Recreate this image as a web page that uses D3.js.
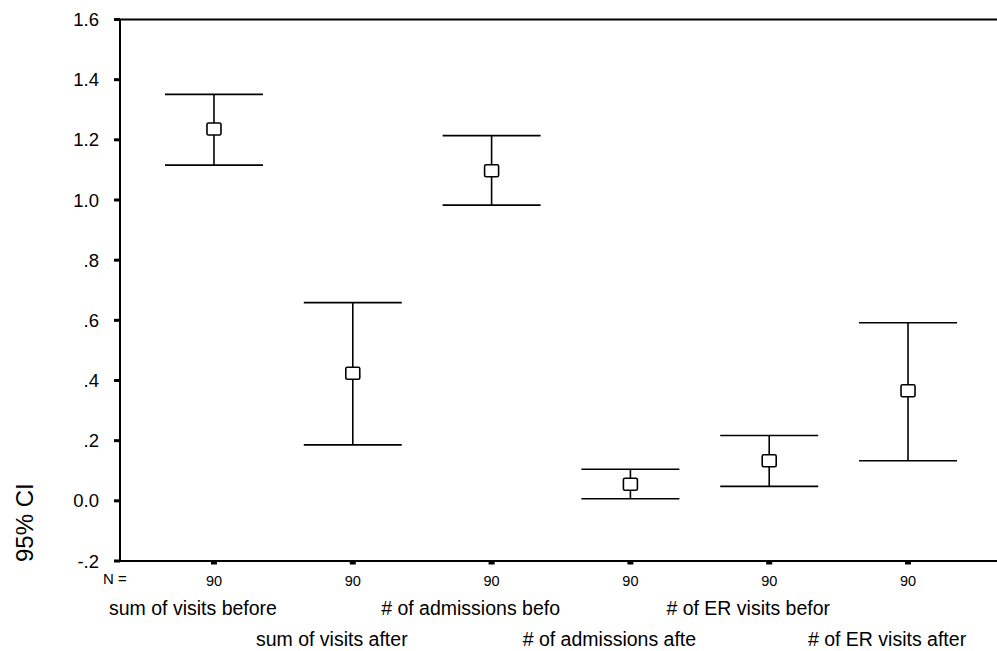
<!DOCTYPE html>
<html>
<head>
<meta charset="utf-8">
<script src="https://cdn.jsdelivr.net/npm/d3@7"></script>
<style>
  html, body { margin: 0; padding: 0; background: #fff; }
  svg { display: block; font-family: "Liberation Sans", Arial, sans-serif; }
</style>
</head>
<body>
<div id="app"></div>
<script>
// values
const categories = [
    "sum of visits before",
    "sum of visits after",
    "# of admissions befo",
    "# of admissions afte",
    "# of ER visits befor",
    "# of ER visits after",
];
const means = [1.236, 0.424, 1.097, 0.055, 0.133, 0.366];
const lower = [1.116, 0.186, 0.983, 0.007, 0.048, 0.133];
const upper = [1.351, 0.659, 1.214, 0.105, 0.217, 0.592];
const counts = [90, 90, 90, 90, 90, 90];
const yTicks = [-0.2, 0, 0.2, 0.4, 0.6, 0.8, 1.0, 1.2, 1.4, 1.6];

const width = 997, height = 651;

const svg = d3.select("#app")
    .append("svg")
    .attr("width", width)
    .attr("height", height);

// scales
const x = d3.scalePoint()
    .domain(categories)
    .range([120, 1002])
    .padding(0.677);

const y = d3.scaleLinear()
    .domain([-0.2, 1.6])
    .range([561, 19.5]);

// format like the SPSS axis: leading zero dropped except 0.0 and 1.x, plain hyphen
const fmt = (v) => {
    if (Math.abs(v) < 1e-9) return "0.0";
    let s = Math.abs(v).toFixed(1);
    if (Math.abs(v) < 1) s = s.replace("0.", ".");
    return (v < 0 ? "-" : "") + s;
};

// frame: top line, left axis, bottom axis (no right side)
svg.append("line")
    .attr("x1", 119).attr("x2", width)
    .attr("y1", y(1.6)).attr("y2", y(1.6))
    .attr("stroke", "#000").attr("stroke-width", 2);

svg.append("line")
    .attr("x1", 119).attr("x2", width)
    .attr("y1", y(-0.2)).attr("y2", y(-0.2))
    .attr("stroke", "#000").attr("stroke-width", 2);

svg.append("line")
    .attr("x1", 120).attr("x2", 120)
    .attr("y1", y(1.6)).attr("y2", y(-0.2) + 1)
    .attr("stroke", "#000").attr("stroke-width", 2);

// y ticks
const yAxis = svg.append("g");
yAxis.selectAll("rect")
    .data(yTicks)
    .enter()
    .append("rect")
    .attr("x", 114)
    .attr("y", (d) => y(d) - 1.5)
    .attr("width", 6)
    .attr("height", 3)
    .attr("fill", "#000");

yAxis.selectAll("text")
    .data(yTicks)
    .enter()
    .append("text")
    .attr("x", 99)
    .attr("y", (d) => y(d))
    .attr("dy", "0.36em")
    .attr("text-anchor", "end")
    .attr("font-size", 18.5)
    .text(fmt);

// y title
svg.append("text")
    .attr("transform", "translate(33,562) rotate(-90)")
    .attr("font-size", 24)
    .text("95% CI");

// x ticks
svg.selectAll(".xtick")
    .data(categories)
    .enter()
    .append("rect")
    .attr("class", "xtick")
    .attr("x", (d) => x(d) - 3)
    .attr("y", y(-0.2))
    .attr("width", 6)
    .attr("height", 3.5)
    .attr("fill", "#000");

// N labels
svg.append("text")
    .attr("x", 103)
    .attr("y", 584)
    .attr("font-size", 15)
    .text("N =");

svg.selectAll(".nlab")
    .data(categories)
    .enter()
    .append("text")
    .attr("class", "nlab")
    .attr("x", (d) => x(d))
    .attr("y", 585.5)
    .attr("text-anchor", "middle")
    .attr("font-size", 14.5)
    .text((d, i) => counts[i]);

// category labels, staggered in two rows
svg.selectAll(".cat")
    .data(categories)
    .enter()
    .append("text")
    .attr("class", "cat")
    .attr("x", (d) => x(d) - 21)
    .attr("y", (d, i) => (i % 2 === 0 ? 614.5 : 646))
    .attr("text-anchor", "middle")
    .attr("font-size", 19.5)
    .text((d) => d);

// error bars
const bars = svg.selectAll(".bar")
    .data(categories)
    .enter()
    .append("g")
    .attr("class", "bar")
    .attr("stroke", "#000")
    .attr("stroke-width", 1.6)
    .attr("fill", "none");

bars.append("line")
    .attr("x1", (d) => x(d)).attr("x2", (d) => x(d))
    .attr("y1", (d, i) => y(upper[i]))
    .attr("y2", (d, i) => y(lower[i]));

bars.append("line")
    .attr("x1", (d) => x(d) - 49).attr("x2", (d) => x(d) + 49)
    .attr("y1", (d, i) => y(upper[i]))
    .attr("y2", (d, i) => y(upper[i]));

bars.append("line")
    .attr("x1", (d) => x(d) - 49).attr("x2", (d) => x(d) + 49)
    .attr("y1", (d, i) => y(lower[i]))
    .attr("y2", (d, i) => y(lower[i]));

bars.append("rect")
    .attr("x", (d) => x(d) - 7)
    .attr("y", (d, i) => y(means[i]) - 6)
    .attr("width", 14)
    .attr("height", 12)
    .attr("rx", 1.5)
    .attr("fill", "#fff");
</script>
</body>
</html>
